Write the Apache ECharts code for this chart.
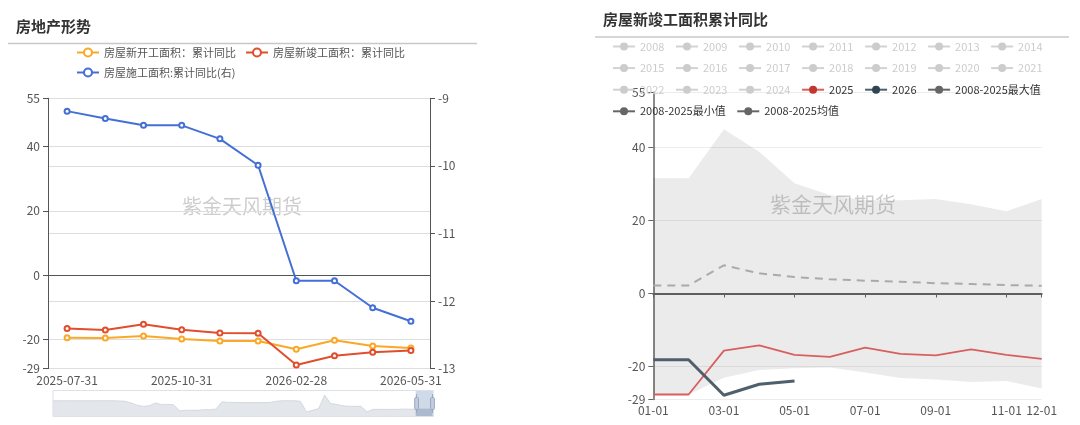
<!DOCTYPE html>
<html>
<head>
<meta charset="utf-8">
<script src="https://cdn.jsdelivr.net/npm/echarts@6/dist/echarts.min.js"></script>
<style>
html,body{margin:0;padding:0;background:#fff;}
#main{width:1080px;height:425px;}
</style>
</head>
<body>
<div id="main"></div>
<script>
// ---------- Left chart: 房地产形势 ----------
const leftDates = ['2025-07-31','2025-08-31','2025-09-30','2025-10-31','2025-11-30','2025-12-31','2026-02-28','2026-03-31','2026-04-30','2026-05-31'];
const newStartsYoY = [-19.4,-19.5,-18.9,-19.8,-20.4,-20.4,-23.0,-20.2,-22.0,-22.6];
const completionsYoY = [-16.5,-17.0,-15.2,-16.9,-17.9,-18.0,-27.9,-25.0,-23.9,-23.4];
const underConstructionYoY = [-9.19,-9.30,-9.40,-9.40,-9.60,-9.99,-11.70,-11.70,-12.10,-12.30];
const sliderHistory = [17,17,17,17,17,17,17,17,17,17,17,16.8,16.5,15,13,12,12.5,15,13.7,13.7,13.5,8,8.5,8.5,8.5,9,9,9.5,16,15.5,15.5,15.3,15.3,15.3,15.3,15.3,15.5,16.5,17,17,17,16.5,7,8.5,10,22,14.5,13.7,12.5,12,12,12,7,9.3,9.3,9.3,9.3,9.3,9.5,9.5,9.3,9.5,9.5,9.5];
const sliderIndex = sliderHistory.map((v, i) => String(i));

// ---------- Right chart: 房屋新竣工面积累计同比 ----------
const monthLabels = ['01-01','02-01','03-01','04-01','05-01','06-01','07-01','08-01','09-01','10-01','11-01','12-01'];
const hiddenYears = ['2008','2009','2010','2011','2012','2013','2014','2015','2016','2017','2018','2019','2020','2021','2022','2023','2024'];
const y2025 = [-27.6,-27.6,-15.6,-14.2,-16.8,-17.3,-14.8,-16.5,-16.9,-15.3,-16.8,-17.9];
const y2026 = [-18.1,-18.1,-27.8,-24.8,-23.9];
const maxVals = [31.5,31.5,44.9,38.7,30.1,26.9,25.5,25.5,25.8,24.4,22.5,25.8];
const minVals = [-27.6,-27.6,-23.0,-20.9,-20.4,-20.2,-21.6,-23.1,-23.5,-24.2,-23.9,-26.0];
const meanVals = [2.2,2.2,7.7,5.5,4.5,3.9,3.5,3.2,2.8,2.6,2.3,2.1];

const FONT = '"Noto Sans CJK SC", "Noto Sans", sans-serif';
const chart = echarts.init(document.getElementById('main'));

const bandSpan = maxVals.map((v, i) => +(v - minVals[i]).toFixed(2));

const yearSeries = hiddenYears.map(y => ({
  name: y, type: 'line', xAxisIndex: 1, yAxisIndex: 2, data: [],
  symbol: 'circle', showSymbol: false
}));

const selected = {};
hiddenYears.forEach(y => selected[y] = false);

const greyIcon = { color: '#666', opacity: 1 };
const greyLine = { color: '#666', opacity: 1, width: 2, type: 'solid' };

const option = {
  animation: false,
  textStyle: { fontFamily: FONT },
  title: [
    { text: '房地产形势', left: 16, top: 19, padding: 0,
      textStyle: { fontSize: 15, fontWeight: 'bold', color: '#333', fontFamily: FONT } },
    { text: '房屋新竣工面积累计同比', left: 603, top: 12, padding: 0,
      textStyle: { fontSize: 15, fontWeight: 'bold', color: '#333', fontFamily: FONT } }
  ],
  graphic: [
    { type: 'line', shape: { x1: 8, y1: 43.5, x2: 477, y2: 43.5 }, style: { stroke: '#c8c8c8', lineWidth: 1.5 }, silent: true },
    { type: 'line', shape: { x1: 595, y1: 37, x2: 1069, y2: 37 }, style: { stroke: '#c8c8c8', lineWidth: 1.5 }, silent: true },
    { type: 'text', left: 182, top: 196, silent: true, z: 0,
      style: { text: '紫金天风期货', fontSize: 20, fill: 'rgba(0,0,0,0.2)', fontFamily: FONT } },
    { type: 'text', left: 770, top: 194, silent: true, z: 0,
      style: { text: '紫金天风期货', fontSize: 21, fill: 'rgba(0,0,0,0.2)', fontFamily: FONT } }
  ],
  legend: [
    {
      left: 71, top: 42, width: 345, itemWidth: 22, itemHeight: 10, itemGap: 9,
      textStyle: { fontSize: 11, color: '#555' },
      data: ['房屋新开工面积：累计同比', '房屋新竣工面积：累计同比', '房屋施工面积:累计同比(右)']
    },
    {
      left: 607, top: 36, width: 460, itemWidth: 22, itemHeight: 10, itemGap: 10.6,
      textStyle: { fontSize: 11, color: '#333' },
      inactiveColor: '#ccc',
      selected: selected,
      data: hiddenYears.concat([
        '2025', '2026',
        { name: '2008-2025最大值', itemStyle: greyIcon, lineStyle: greyLine },
        { name: '2008-2025最小值', itemStyle: greyIcon, lineStyle: greyLine },
        { name: '2008-2025均值', itemStyle: greyIcon, lineStyle: greyLine }
      ])
    }
  ],
  grid: [
    { left: 48, right: 650, top: 98.3, bottom: 56.4 },
    { left: 653.3, right: 38.3, top: 92.2, bottom: 25.4 }
  ],
  xAxis: [
    {
      type: 'category', gridIndex: 0, data: leftDates, boundaryGap: true,
      axisLine: { lineStyle: { color: '#555' } },
      axisTick: { interval: 2, length: 4, lineStyle: { color: '#555' } },
      axisLabel: { interval: 2, color: '#555', fontSize: 12, margin: 6 }
    },
    {
      type: 'category', gridIndex: 1, data: monthLabels, boundaryGap: false,
      axisLine: { lineStyle: { color: '#666', width: 2 } },
      axisTick: { interval: (i) => i % 2 === 0 || i === 11, length: 4, lineStyle: { color: '#666' } },
      axisLabel: { interval: (i) => i % 2 === 0 || i === 11, color: '#555', fontSize: 12, margin: 5 }
    },
    { type: 'category', gridIndex: 0, data: sliderIndex, show: false }
  ],
  yAxis: [
    {
      type: 'value', gridIndex: 0, min: -29, max: 55, position: 'left',
      axisLine: { show: true, lineStyle: { color: '#555' } },
      axisTick: { show: true, lineStyle: { color: '#555' } },
      axisLabel: { color: '#555', fontSize: 12 },
      splitLine: { lineStyle: { color: '#dedede' } }
    },
    {
      type: 'value', gridIndex: 0, min: -13, max: -9, position: 'right',
      axisLine: { show: true, lineStyle: { color: '#555' } },
      axisTick: { show: true, lineStyle: { color: '#555' } },
      axisLabel: { color: '#555', fontSize: 12 },
      splitLine: { lineStyle: { color: '#dedede' } }
    },
    {
      type: 'value', gridIndex: 1, min: -29, max: 55,
      axisLine: { show: true, lineStyle: { color: '#666', width: 1.5 } },
      axisTick: { show: true, lineStyle: { color: '#666' } },
      axisLabel: { color: '#555', fontSize: 12 },
      splitLine: { lineStyle: { color: '#ececec' } }
    }
  ],
  dataZoom: [
    {
      type: 'slider', xAxisIndex: 2, filterMode: 'none',
      start: 95.3, end: 100,
      left: 50, right: 649, top: 390, height: 27,
      showDetail: false, showDataShadow: true, brushSelect: false,
      moveHandleSize: 0,
      borderColor: '#dde1e8',
      backgroundColor: 'rgba(0,0,0,0)',
      fillerColor: 'rgba(120,145,185,0.35)',
      dataBackground: { lineStyle: { color: '#cfd3d9', width: 0.8 }, areaStyle: { color: '#e3e6ea', opacity: 1 } },
      selectedDataBackground: { lineStyle: { color: '#b8c2d2', width: 0.8 }, areaStyle: { color: '#c8d0dc', opacity: 1 } },
      handleSize: '70%',
      handleStyle: { color: '#c2cde0', borderColor: '#9aa8c0' }
    }
  ],
  series: [
    {
      name: '房屋新开工面积：累计同比', type: 'line', xAxisIndex: 0, yAxisIndex: 0, data: newStartsYoY,
      color: '#fba826', symbol: 'emptyCircle', symbolSize: 5, lineStyle: { width: 2 }
    },
    {
      name: '房屋新竣工面积：累计同比', type: 'line', xAxisIndex: 0, yAxisIndex: 0, data: completionsYoY,
      color: '#e14e2c', symbol: 'emptyCircle', symbolSize: 5, lineStyle: { width: 2 }
    },
    {
      name: '房屋施工面积:累计同比(右)', type: 'line', xAxisIndex: 0, yAxisIndex: 1, data: underConstructionYoY,
      color: '#4470d6', symbol: 'emptyCircle', symbolSize: 5, lineStyle: { width: 2 }
    },
    {
      name: 'sliderPreview', type: 'line', xAxisIndex: 2, yAxisIndex: 0, data: sliderHistory,
      showSymbol: false, silent: true, lineStyle: { opacity: 0 }, tooltip: { show: false }
    },
    ...yearSeries,
    {
      name: '2008-2025最小值', type: 'line', xAxisIndex: 1, yAxisIndex: 2, data: minVals,
      stack: 'band', stackStrategy: 'all', color: '#666', symbol: 'circle', showSymbol: false,
      lineStyle: { opacity: 0 }, z: 1
    },
    {
      name: '2008-2025最大值', type: 'line', xAxisIndex: 1, yAxisIndex: 2, data: bandSpan,
      stack: 'band', stackStrategy: 'all', color: '#666', symbol: 'circle', showSymbol: false,
      lineStyle: { opacity: 0 }, areaStyle: { color: 'rgba(0,0,0,0.11)' }, z: 1
    },
    {
      name: '2008-2025均值', type: 'line', xAxisIndex: 1, yAxisIndex: 2, data: meanVals,
      color: '#666', symbol: 'circle', showSymbol: false,
      lineStyle: { color: '#aaa', width: 2, type: [8, 6] }
    },
    {
      name: '2025', type: 'line', xAxisIndex: 1, yAxisIndex: 2, data: y2025,
      color: '#c23531', symbol: 'circle', showSymbol: false,
      lineStyle: { color: '#d75f5f', width: 1.8 }
    },
    {
      name: '2026', type: 'line', xAxisIndex: 1, yAxisIndex: 2, data: y2026,
      color: '#2f4554', symbol: 'circle', showSymbol: false,
      lineStyle: { color: '#4f5f6c', width: 3 }
    }
  ]
};
chart.setOption(option);
</script>
</body>
</html>
